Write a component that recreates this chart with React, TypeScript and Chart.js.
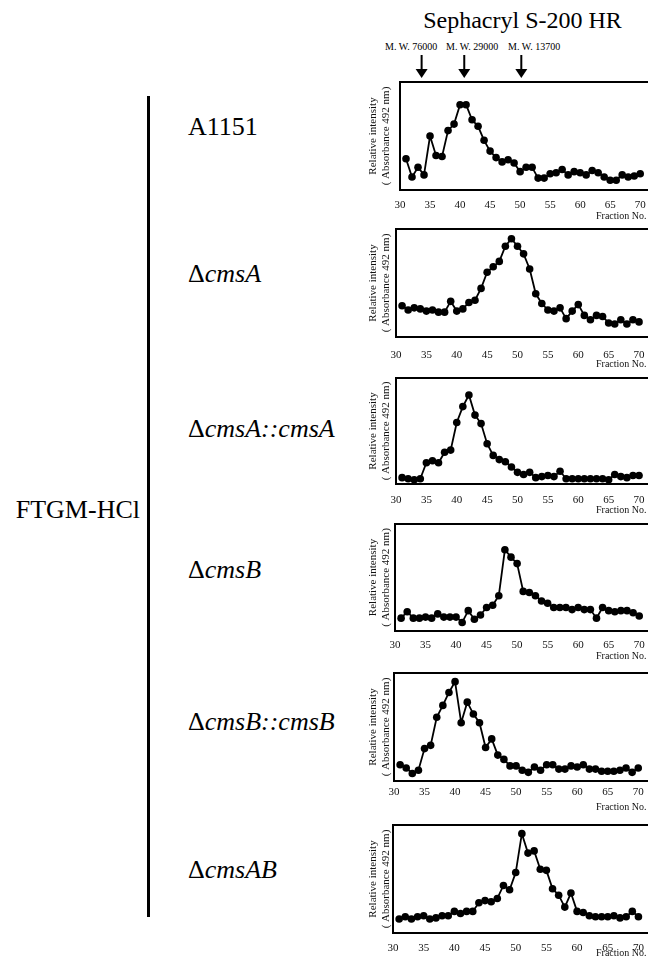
import React, { useEffect, useRef } from "react";
import { Chart, registerables } from "chart.js";

Chart.register(...registerables);

// ---------- DATA ----------
const fractionNo = [
  31, 32, 33, 34, 35, 36, 37, 38, 39, 40,
  41, 42, 43, 44, 45, 46, 47, 48, 49, 50,
  51, 52, 53, 54, 55, 56, 57, 58, 59, 60,
  61, 62, 63, 64, 65, 66, 67, 68, 69, 70,
];

const xTickValues = [30, 35, 40, 45, 50, 55, 60, 65, 70];

const strainNames = ["A1151", "ΔcmsA", "ΔcmsA::cmsA", "ΔcmsB", "ΔcmsB::cmsB", "ΔcmsAB"];

const a1151 = [
  0.29, 0.12, 0.21, 0.14, 0.50, 0.32, 0.31, 0.55, 0.61, 0.79,
  0.79, 0.65, 0.59, 0.46, 0.36, 0.30, 0.26, 0.28, 0.25, 0.17,
  0.21, 0.21, 0.11, 0.11, 0.15, 0.16, 0.19, 0.14, 0.17, 0.16,
  0.14, 0.18, 0.16, 0.12, 0.09, 0.09, 0.14, 0.12, 0.13, 0.15,
];

const dCmsA = [
  0.29, 0.25, 0.27, 0.26, 0.24, 0.25, 0.23, 0.23, 0.33, 0.24,
  0.26, 0.32, 0.34, 0.45, 0.60, 0.65, 0.70, 0.84, 0.91, 0.84,
  0.77, 0.63, 0.40, 0.31, 0.25, 0.24, 0.27, 0.17, 0.24, 0.30,
  0.20, 0.16, 0.20, 0.19, 0.13, 0.12, 0.16, 0.12, 0.16, 0.14,
];

const dCmsAcmsA = [
  0.06, 0.05, 0.04, 0.05, 0.20, 0.22, 0.20, 0.30, 0.32, 0.58,
  0.73, 0.84, 0.65, 0.57, 0.38, 0.27, 0.23, 0.21, 0.16, 0.11,
  0.09, 0.11, 0.06, 0.07, 0.08, 0.07, 0.12, 0.05, 0.05, 0.05,
  0.05, 0.05, 0.05, 0.05, 0.04, 0.09, 0.07, 0.06, 0.08, 0.08,
];

const dCmsB = [
  0.12, 0.18, 0.12, 0.12, 0.13, 0.12, 0.16, 0.13, 0.13, 0.13,
  0.08, 0.19, 0.11, 0.15, 0.22, 0.24, 0.33, 0.76, 0.69, 0.63,
  0.37, 0.36, 0.33, 0.28, 0.26, 0.22, 0.22, 0.22, 0.20, 0.22,
  0.20, 0.20, 0.12, 0.22, 0.19, 0.18, 0.19, 0.19, 0.17, 0.14,
];

const dCmsBcmsB = [
  0.15, 0.12, 0.07, 0.10, 0.30, 0.33, 0.59, 0.70, 0.82, 0.92,
  0.54, 0.73, 0.62, 0.54, 0.31, 0.39, 0.24, 0.20, 0.14, 0.14,
  0.10, 0.08, 0.13, 0.10, 0.15, 0.15, 0.11, 0.11, 0.14, 0.13,
  0.15, 0.11, 0.11, 0.09, 0.09, 0.09, 0.10, 0.12, 0.08, 0.12,
];

const dCmsAB = [
  0.13, 0.15, 0.13, 0.15, 0.16, 0.13, 0.14, 0.16, 0.16, 0.20,
  0.18, 0.20, 0.20, 0.28, 0.30, 0.29, 0.32, 0.44, 0.40, 0.56,
  0.92, 0.74, 0.76, 0.59, 0.58, 0.41, 0.35, 0.24, 0.37, 0.20,
  0.19, 0.16, 0.15, 0.15, 0.15, 0.16, 0.14, 0.15, 0.20, 0.15,
];

const seriesList = [a1151, dCmsA, dCmsAcmsA, dCmsB, dCmsBcmsB, dCmsAB];

const mwLabels = ["M. W. 76000", "M. W. 29000", "M. W. 13700"];
const mwFractions = [33.6, 40.7, 50.2];

const chromTitle = "Sephacryl S-200 HR";
const groupLabel = "FTGM-HCl";
const yTitleLines = ["Relative intensity", "( Absorbance 492 nm)"];
const xTitle = "Fraction No.";

// ---------- LAYOUT (styling only) ----------
const SERIF = "'Times New Roman', 'Liberation Serif', Times, 'DejaVu Serif', serif";
const CANVAS_LEFT = 358;
const CANVAS_WIDTH = 300;
const AXIS_BOTTOM_H = 30;
const LABEL_SIZE = 26;

const panels = [
  { top: 82, bottom: 190, areaLeft: 400, unit: 6.1, tickPad: 9, fracY: 216, labelY: 127, padTop: 45 },
  { top: 229, bottom: 337, areaLeft: 396, unit: 6.17, tickPad: 12, fracY: 364, labelY: 274, padTop: 10 },
  { top: 378, bottom: 484, areaLeft: 396, unit: 6.17, tickPad: 10, fracY: 510, labelY: 429, padTop: 10 },
  { top: 524, bottom: 631, areaLeft: 395, unit: 6.2, tickPad: 8, fracY: 656, labelY: 570, padTop: 10 },
  { top: 673, bottom: 781, areaLeft: 394, unit: 6.2, tickPad: 5, fracY: 807, labelY: 722, padTop: 10 },
  { top: 825, bottom: 933, areaLeft: 393, unit: 6.23, tickPad: 9, fracY: 953, labelY: 870, padTop: 10 },
];

const boxPlugin = {
  id: "frameBox",
  afterDatasetsDraw(chart: any) {
    const { ctx, chartArea } = chart;
    ctx.save();
    ctx.strokeStyle = "#000";
    ctx.lineWidth = 2;
    ctx.strokeRect(chartArea.left, chartArea.top, chartArea.right - chartArea.left, chartArea.bottom - chartArea.top);
    ctx.restore();
  },
};

const arrowPlugin = {
  id: "mwArrows",
  afterDraw(chart: any, _args: any, opts: any) {
    if (!opts || !opts.fractions) return;
    const { ctx, chartArea, scales } = chart;
    ctx.save();
    ctx.fillStyle = "#000";
    ctx.strokeStyle = "#000";
    for (const f of opts.fractions as number[]) {
      const x = scales.x.getPixelForValue(f);
      const tip = chartArea.top - 4;
      const headTop = tip - 9;
      const shaftTop = chartArea.top - 27;
      ctx.lineWidth = 2;
      ctx.beginPath();
      ctx.moveTo(x, shaftTop);
      ctx.lineTo(x, headTop + 1);
      ctx.stroke();
      ctx.beginPath();
      ctx.moveTo(x - 6, headTop);
      ctx.lineTo(x + 6, headTop);
      ctx.lineTo(x, tip);
      ctx.closePath();
      ctx.fill();
    }
    ctx.restore();
  },
};

function renderStrain(name: string) {
  if (name.startsWith("Δ")) {
    return (
      <>
        <span>Δ</span>
        <span style={{ fontStyle: "italic" }}>{name.slice(1)}</span>
      </>
    );
  }
  return <span>{name}</span>;
}

function Panel({ index }: { index: number }) {
  const ref = useRef<HTMLCanvasElement>(null);
  const g = panels[index];
  const yAxisW = g.areaLeft - CANVAS_LEFT;
  const areaW = CANVAS_WIDTH - yAxisW;
  const xMax = 30 + areaW / g.unit;
  const canvasTop = g.top - g.padTop;
  const canvasH = g.padTop + (g.bottom - g.top) + AXIS_BOTTOM_H;

  useEffect(() => {
    if (!ref.current) return;
    const values = seriesList[index];
    const chart = new Chart(ref.current, {
      type: "line",
      data: {
        datasets: [
          {
            data: fractionNo.map((f, i) => ({ x: f, y: values[i] })),
            borderColor: "#000",
            backgroundColor: "#000",
            borderWidth: 1.8,
            pointRadius: 3.8,
            pointBackgroundColor: "#000",
            pointBorderColor: "#000",
            pointBorderWidth: 0,
            tension: 0,
            clip: false as any,
          },
        ],
      },
      plugins: [boxPlugin, arrowPlugin],
      options: {
        animation: false,
        responsive: false,
        devicePixelRatio: 1,
        events: [],
        layout: { padding: { top: g.padTop, right: 0, bottom: 0, left: 0 } },
        plugins: {
          legend: { display: false },
          tooltip: { enabled: false },
          title: { display: false },
          mwArrows: index === 0 ? { fractions: mwFractions } : {},
        } as any,
        scales: {
          x: {
            type: "linear",
            min: 30,
            max: xMax,
            grid: { display: false, drawTicks: false },
            border: { display: false },
            afterBuildTicks: (axis: any) => {
              axis.ticks = xTickValues.map((v) => ({ value: v }));
            },
            afterFit: (axis: any) => {
              axis.height = AXIS_BOTTOM_H;
            },
            ticks: {
              includeBounds: false,
              stepSize: 5,
              padding: g.tickPad,
              maxRotation: 0,
              autoSkip: false,
              color: "#111",
              font: { family: SERIF, size: 11 },
            },
          },
          y: {
            type: "linear",
            min: 0,
            max: 1,
            grid: { display: false, drawTicks: false },
            border: { display: false },
            ticks: { display: false },
            afterFit: (axis: any) => {
              axis.width = yAxisW;
            },
            title: {
              display: true,
              text: yTitleLines,
              color: "#111",
              padding: { top: 8.7, bottom: 0 },
              font: { family: SERIF, size: 11, lineHeight: 1.15 },
            },
          },
        },
      } as any,
    });
    return () => chart.destroy();
  }, [index]);

  return (
    <>
      <canvas
        ref={ref}
        width={CANVAS_WIDTH}
        height={canvasH}
        style={{ position: "absolute", left: CANVAS_LEFT, top: canvasTop, width: CANVAS_WIDTH, height: canvasH }}
      />
      <div
        style={{
          position: "absolute",
          left: 596,
          top: g.fracY - 6,
          fontFamily: SERIF,
          fontSize: 10,
          lineHeight: "12px",
          color: "#111",
          whiteSpace: "nowrap",
        }}
      >
        {xTitle}
      </div>
      <div
        style={{
          position: "absolute",
          left: 188,
          top: g.labelY - 13,
          fontFamily: SERIF,
          fontSize: LABEL_SIZE,
          lineHeight: `${LABEL_SIZE}px`,
          color: "#000",
          whiteSpace: "nowrap",
        }}
      >
        {renderStrain(strainNames[index])}
      </div>
    </>
  );
}

export default function App() {
  const mwLefts = [385, 446, 508];
  return (
    <div
      style={{
        position: "absolute",
        left: 0,
        top: 0,
        width: 648,
        height: 965,
        overflow: "hidden",
        background: "#fff",
        fontFamily: SERIF,
      }}
    >
      <div
        style={{
          position: "absolute",
          left: 402,
          width: 241,
          top: 8,
          textAlign: "center",
          fontFamily: SERIF,
          fontSize: 24,
          lineHeight: "24px",
          whiteSpace: "nowrap",
          color: "#000",
        }}
      >
        {chromTitle}
      </div>
      {mwLabels.map((t, i) => (
        <div
          key={t}
          style={{
            position: "absolute",
            left: mwLefts[i],
            top: 42,
            fontFamily: SERIF,
            fontSize: 10,
            lineHeight: "10px",
            whiteSpace: "nowrap",
            color: "#000",
          }}
        >
          {t}
        </div>
      ))}
      <div
        style={{
          position: "absolute",
          left: 0,
          width: 140,
          top: 497,
          textAlign: "right",
          fontFamily: SERIF,
          fontSize: LABEL_SIZE,
          lineHeight: `${LABEL_SIZE}px`,
          whiteSpace: "nowrap",
          color: "#000",
        }}
      >
        {groupLabel}
      </div>
      <div style={{ position: "absolute", left: 147, top: 96, width: 3, height: 821, background: "#000" }} />
      {panels.map((_, i) => (
        <Panel key={i} index={i} />
      ))}
    </div>
  );
}
